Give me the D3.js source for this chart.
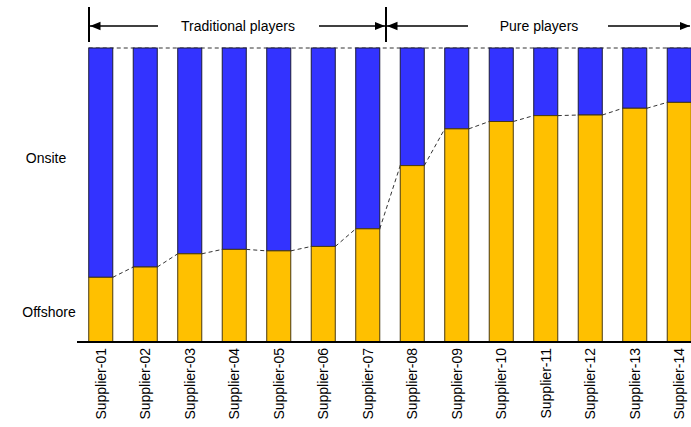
<!DOCTYPE html>
<html><head><meta charset="utf-8">
<script src="https://cdn.jsdelivr.net/npm/d3@7"></script>
<style>body{margin:0;background:#fff}svg{display:block;font-family:"Liberation Sans",Arial,sans-serif}</style>
</head><body><svg id="c" width="691" height="427"></svg>
<script>
const categories = ["Supplier-01","Supplier-02","Supplier-03","Supplier-04","Supplier-05","Supplier-06","Supplier-07","Supplier-08","Supplier-09","Supplier-10","Supplier-11","Supplier-12","Supplier-13","Supplier-14"];
const offshore = [22, 25.5, 30, 31.5, 31, 32.5, 38.5, 60, 72.5, 75, 77, 77.2, 79.5, 81.5];
const groups = [{label:"Traditional players", from:0, to:6}, {label:"Pure players", from:7, to:13}];
const yLabels = ["Onsite", "Offshore"];

const svg = d3.select("#c");
const x = d3.scaleBand().domain(categories).range([78.5, 701.5]).paddingInner(0.46).paddingOuter(0.23);
const y = d3.scaleLinear().domain([0,100]).range([342, 48]);
const bw = x.bandwidth();

// top dashed line
svg.append("line").attr("x1", x(categories[0])).attr("x2", 691)
  .attr("y1", y(100)).attr("y2", y(100))
  .attr("stroke","#333").attr("stroke-width",1).attr("stroke-dasharray","4,3");

// connector dashed lines
for (let i=0;i<categories.length-1;i++){
  svg.append("line")
    .attr("x1", x(categories[i])+bw).attr("y1", y(offshore[i]))
    .attr("x2", x(categories[i+1])).attr("y2", y(offshore[i+1]))
    .attr("stroke","#333").attr("stroke-width",1).attr("stroke-dasharray","4,3");
}

// bars
const g = svg.append("g");
g.selectAll(".on").data(categories).join("rect")
  .attr("x", d => x(d)).attr("width", bw)
  .attr("y", y(100)).attr("height", (d,i) => y(offshore[i]) - y(100))
  .attr("fill","#3333FF").attr("stroke","#1a1a3a").attr("stroke-width",1);
g.selectAll(".off").data(categories).join("rect")
  .attr("x", d => x(d)).attr("width", bw)
  .attr("y", (d,i) => y(offshore[i])).attr("height", (d,i) => y(0) - y(offshore[i]))
  .attr("fill","#FFC000").attr("stroke","#4a3a10").attr("stroke-width",1);

// baseline axis
svg.append("line").attr("x1",77).attr("x2",691).attr("y1",y(0)).attr("y2",y(0))
  .attr("stroke","#000").attr("stroke-width",2);

// x labels
svg.append("g").selectAll("text").data(categories).join("text")
  .attr("transform", d => `translate(${x(d)+bw/2+5},348) rotate(-90)`)
  .attr("text-anchor","end").attr("font-size",14).attr("fill","#000").text(d => d);

// y labels
svg.append("text").attr("x",46).attr("y",163).attr("text-anchor","middle")
  .attr("font-size",14).text(yLabels[0]);
svg.append("text").attr("x",49).attr("y",317).attr("text-anchor","middle")
  .attr("font-size",14).text(yLabels[1]);

// header arrows
const defs = svg.append("defs");
defs.append("marker").attr("id","ah").attr("viewBox","0 0 10 10").attr("refX",10).attr("refY",5)
  .attr("markerWidth",7).attr("markerHeight",7).attr("orient","auto-start-reverse")
  .append("path").attr("d","M0,1 L10,5 L0,9 Z").attr("fill","#000");
const ay = 26;
const divs = [89, 386];
divs.forEach(dx => svg.append("line").attr("x1",dx).attr("x2",dx).attr("y1",7).attr("y2",42)
  .attr("stroke","#000").attr("stroke-width",2));
function header(x0, x1, label, tx, gapL, gapR){
  svg.append("line").attr("x1",gapL).attr("x2",x0).attr("y1",ay).attr("y2",ay)
    .attr("stroke","#000").attr("stroke-width",1.5).attr("marker-end","url(#ah)");
  svg.append("line").attr("x1",gapR).attr("x2",x1).attr("y1",ay).attr("y2",ay)
    .attr("stroke","#000").attr("stroke-width",1.5).attr("marker-end","url(#ah)");
  svg.append("text").attr("x",tx).attr("y",ay+5).attr("text-anchor","middle").attr("font-size",14).text(label);
}
header(90, 385, groups[0].label, 238, 158, 319);
header(387, 690, groups[1].label, 539, 468, 608);
</script></body></html>
